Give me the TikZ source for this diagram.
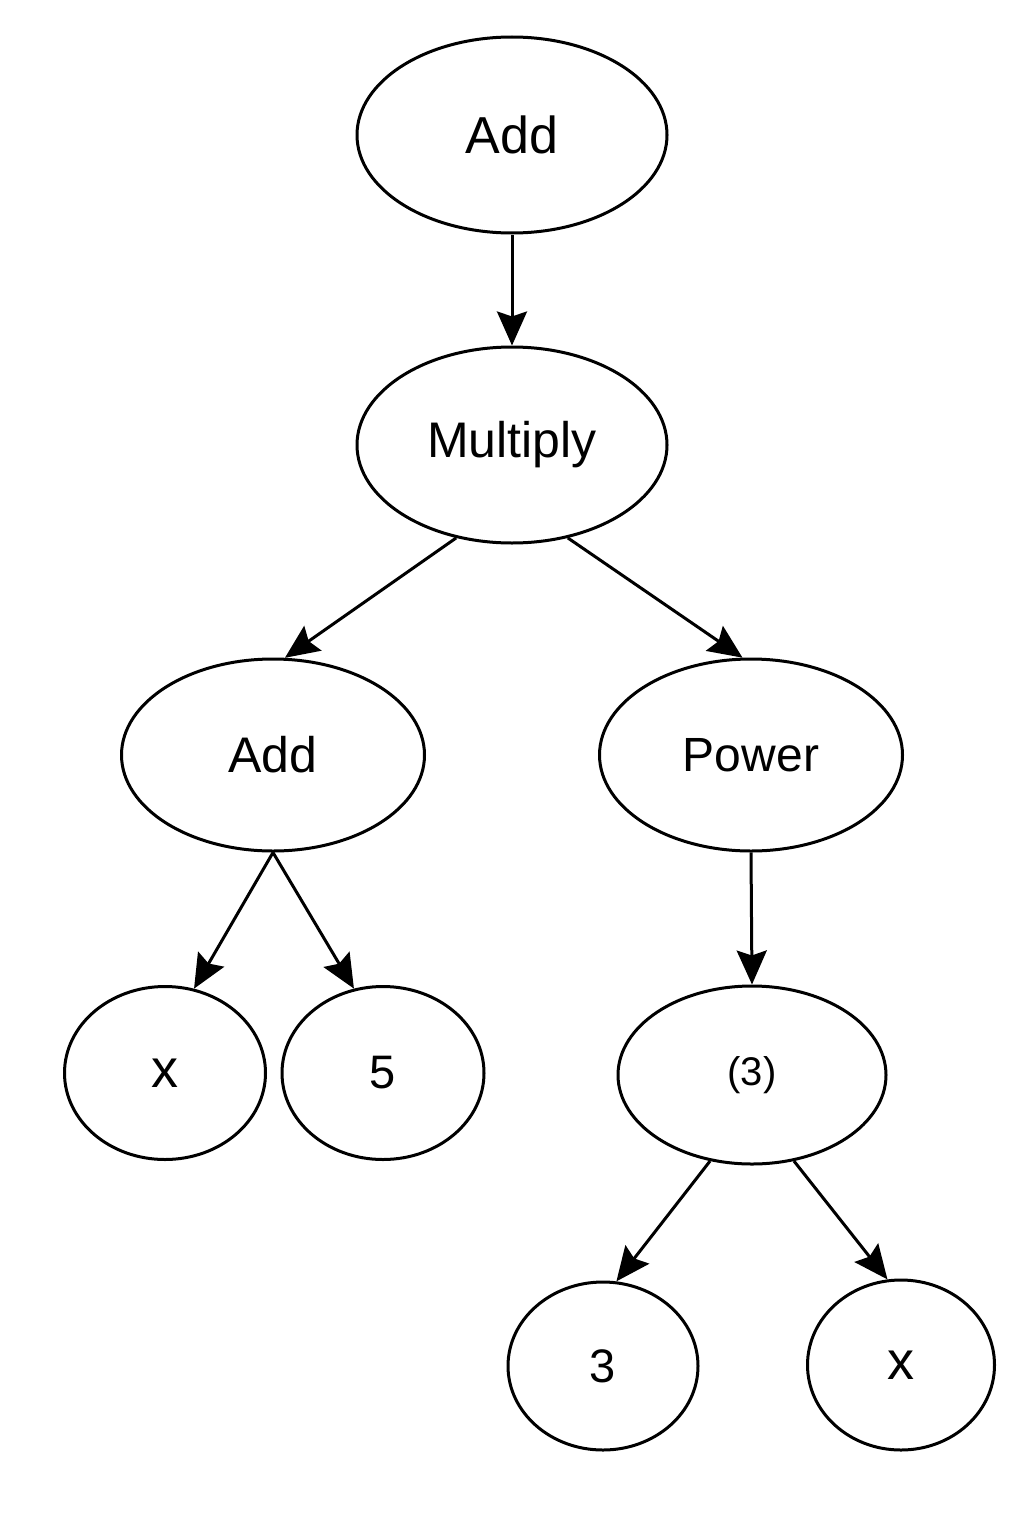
\documentclass[tikz,border=0pt]{standalone}
\usepackage{fontspec}
\setmainfont{Liberation Sans}
\usetikzlibrary{shapes.geometric,arrows.meta}
\begin{document}
\begin{tikzpicture}[x=1pt,y=-1pt,
  nd/.style={draw,ellipse,line width=3pt,inner sep=0pt,fill=white},
  conn/.style={line width=3pt,-{Stealth[length=34pt,width=30pt,inset=5pt]}}]
\useasboundingbox[fill=white] (0,0) rectangle (1024,1536);
\node[nd,minimum width=310pt,minimum height=196pt,font=\fontsize{52}{60}\selectfont] (add) at (512,135) {Add};
\node[nd,minimum width=310pt,minimum height=196pt,font=\fontsize{50}{60}\selectfont] (mul) at (512,445) {Multiply};
\node[nd,minimum width=303pt,minimum height=192pt,font=\fontsize{50}{60}\selectfont] (addl) at (273,755) {Add};
\node[nd,minimum width=303pt,minimum height=192pt,font=\fontsize{48}{60}\selectfont] (pow) at (751,755) {Power};
\node[nd,minimum width=201pt,minimum height=173pt,font=\fontsize{54}{60}\selectfont] (xl) at (165,1073) {x};
\node[nd,minimum width=202pt,minimum height=173pt,font=\fontsize{47}{60}\selectfont] (five) at (383,1073) {5};
\node[nd,minimum width=268pt,minimum height=178pt,font=\fontsize{40}{50}\selectfont] (par) at (752,1075) {(3)};
\node[nd,minimum width=190pt,minimum height=168pt,font=\fontsize{47}{60}\selectfont] (three) at (603,1366) {3};
\node[nd,minimum width=187pt,minimum height=170pt,font=\fontsize{54}{60}\selectfont] (xr) at (901,1365) {x};
\draw[conn] (add.south) -- (mul.north);
\draw[conn] (mul.239) -- (addl.83);
\draw[conn] (mul.301) -- (pow.95);
\draw[conn] (addl.south) -- (xl.71);
\draw[conn] (addl.south) -- (five.109);
\draw[conn] (pow.south) -- (par.north);
\draw[conn] (par.244) -- (three.81);
\draw[conn] (par.296) -- (xr.99);
\end{tikzpicture}
\end{document}
